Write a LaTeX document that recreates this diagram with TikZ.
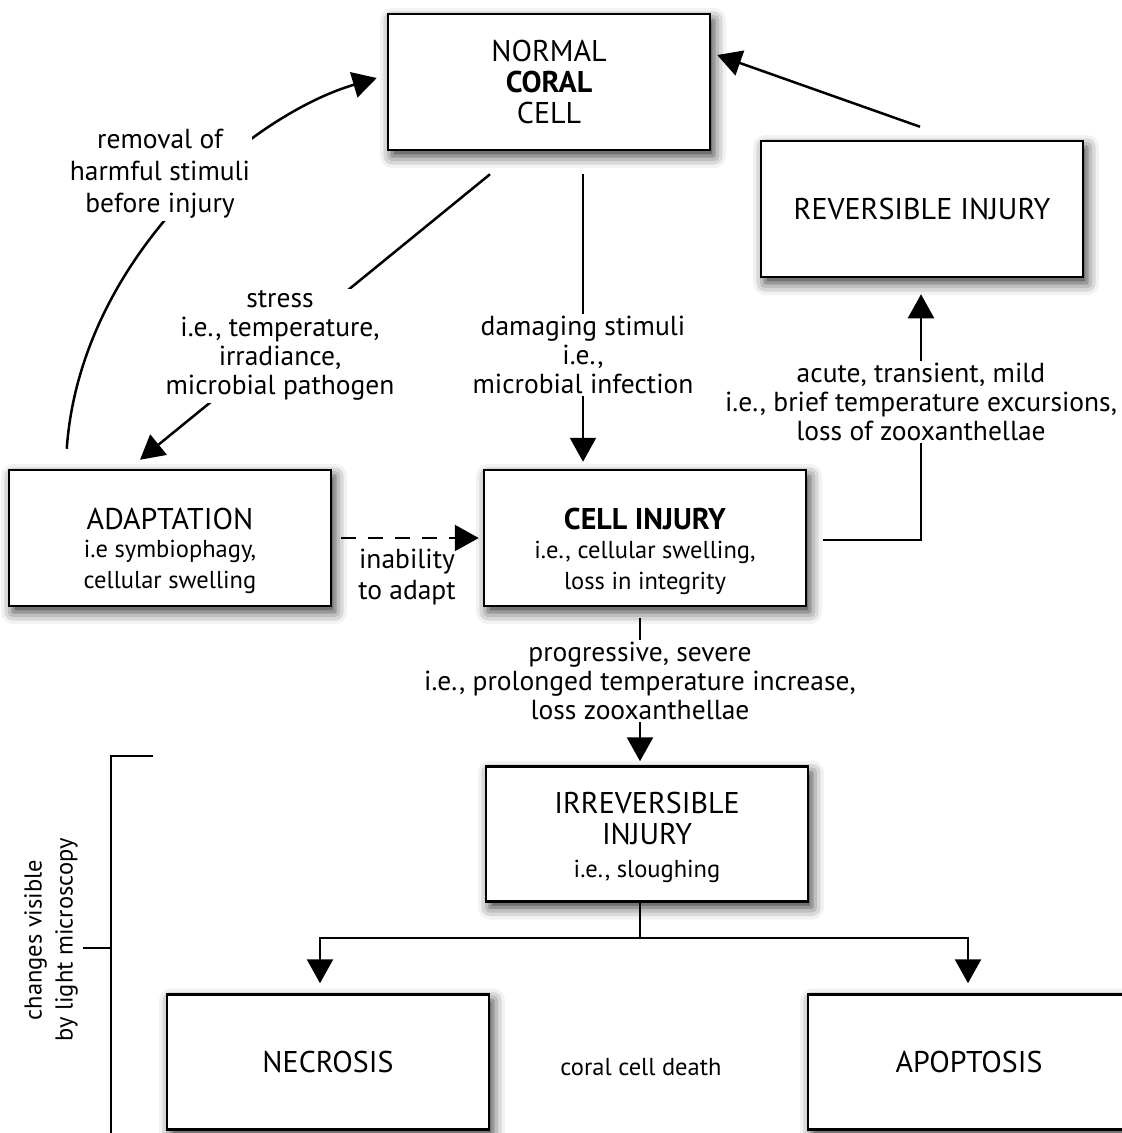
\documentclass[tikz,border=0pt]{standalone}
\usepackage{fontspec}
\setmainfont{PT Sans}
\usepackage{tikz}
\usetikzlibrary{arrows.meta, positioning, calc, shadows.blur}

\newcommand{\boxfont}{\fontsize{30}{31}\selectfont}
\newcommand{\subfont}{\fontsize{24.5}{29}\selectfont}
\newcommand{\lblfont}{\fontsize{27.5}{29}\selectfont}
\newcommand{\tallstrut}{\rule{0pt}{48pt}}

\begin{document}
\begin{tikzpicture}[
    x=1pt, y=-1pt,
    box/.style={draw, line width=2.5pt, fill=white, align=center, minimum width=322pt, minimum height=136pt, font=\boxfont,
        blur shadow={shadow xshift=4pt, shadow yshift=-6pt, shadow blur radius=12pt, shadow opacity=80}},
    lbl/.style={align=center, font=\lblfont, fill=white, inner sep=2pt},
    arrow/.style={-{Triangle[length=24pt, width=26pt]}, line width=2.5pt},
    dasharrow/.style={-{Triangle[length=24pt, width=26pt]}, line width=2.5pt, dash pattern=on 15pt off 12pt},
    link/.style={line width=2.5pt},
    bracket/.style={line width=2pt}
]
\clip (0,0) rectangle (1122,1133);

% Boxes
\node[box] (normal) at (549,82) {NORMAL\\\textbf{CORAL}\\CELL};
\node[box] (rev) at (922,209) {REVERSIBLE INJURY};
\node[box] (adapt) at (170,538) {\tallstrut ADAPTATION\\[-3pt]{\subfont i.e symbiophagy,}\\{\subfont cellular swelling}};
\node[box] (cell) at (645,538) {\tallstrut\textbf{CELL INJURY}\\[-2pt]{\subfont i.e., cellular swelling,}\\{\subfont loss in integrity}};
\node[box, minimum height=135pt] (irrev) at (647,834) {\rule{0pt}{28pt}IRREVERSIBLE\\INJURY\\[2pt]{\subfont i.e., sloughing}};
\node[box, minimum height=135pt] (necro) at (328,1062) {NECROSIS};
\node[box, minimum height=135pt] (apop) at (969,1062) {APOPTOSIS};

% Connectors
\draw[arrow] ($(adapt.north west)+(59,-20)$) .. controls (80,260) and (248,116) .. ($(normal.west)+(-10,-4)$);
\node[lbl] (removallbl) at (160,174) {removal of\\[3pt]harmful stimuli\\[3pt]before injury};

\draw[arrow] ($(normal.south)+(-59,23)$) -- node[lbl, pos=0.6] (stresslbl) {stress\\i.e., temperature,\\irradiance,\\microbial pathogen} ($(adapt.north)+(-30,-9)$);
\draw[arrow] ($(normal.south)+(34,23)$) -- node[lbl, pos=0.63] (damagelbl) {damaging stimuli\\i.e.,\\microbial infection} ($(cell.north)+(-62,-7)$);

\draw[dasharrow] ($(adapt.east)+(9,0)$) -- ($(cell.west)+(-4,0)$);
\node[lbl, fill=none] (inabilitylbl) at (407,577) {inability\\[2pt]to adapt};

\node[lbl] (acutelbl) at (921,402) {acute, transient, mild\\i.e., brief temperature excursions,\\loss of zooxanthellae};
\draw[link] ($(cell.east)+(16,2)$) -| (acutelbl.south);
\draw[arrow] (acutelbl.north) -- ($(rev.south)+(-1,16)$);

\draw[arrow] ($(rev.north)+(-2,-13)$) -- ($(normal.east)+(6,-27)$);

\draw[arrow] ($(cell.south)+(-5,11)$) -- node[lbl, pos=0.44] (progresslbl) {progressive, severe\\i.e., prolonged temperature increase,\\loss zooxanthellae} ($(irrev.north)+(-7,-4)$);

\draw[link] ($(irrev.south)+(-7,0)$) -- ++(0,35) coordinate (split);
\draw[arrow] (split) -| ($(necro.north)+(-8,-10)$);
\draw[arrow] (split) -| ($(apop.north)+(-1,-10)$);

\node[font=\subfont] (deathlbl) at (641,1067) {coral cell death};

% Bracket
\coordinate (brtop) at (153,756);
\coordinate (brbot) at (111,1140);
\draw[bracket] (brtop) -- (111,756) -- (brbot);
\coordinate (tick) at (83,948);
\draw[bracket] (tick) -- (111,948);
\node[rotate=90, align=center, font=\subfont] (microlbl) at (51,940) {changes visible\\[2pt]by light microscopy};

\end{tikzpicture}
\end{document}
